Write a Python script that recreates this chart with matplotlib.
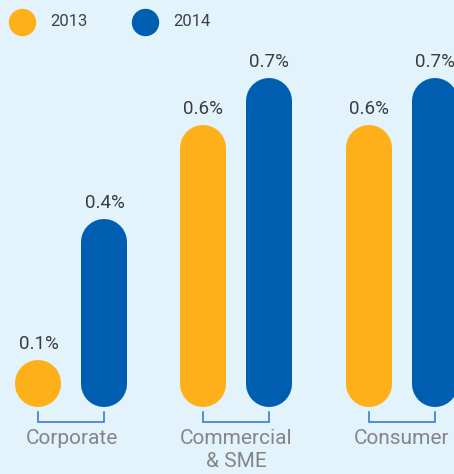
import matplotlib
matplotlib.use("Agg")
import matplotlib.pyplot as plt

# Data
categories = ["Corporate", "Commercial\n& SME", "Consumer"]
years = ["2013", "2014"]
values_2013 = [0.1, 0.6, 0.6]
values_2014 = [0.4, 0.7, 0.7]
series_colors = ["#FDB01A", "#005EB0"]

BG = "#E3F3FC"
W, H, DPI = 454, 474, 100

plt.rcParams["font.family"] = ["Roboto", "DejaVu Sans"]

fig = plt.figure(figsize=(W / DPI, H / DPI), dpi=DPI)
fig.patch.set_facecolor(BG)
ax = fig.add_axes([0, 0, 1, 1])
ax.set_facecolor(BG)
ax.set_xlim(-0.433, 2.318)
ax.set_ylim(-0.1426, 0.866)
ax.axis("off")

px_per_unit = H / (0.866 + 0.1426)
bar_px = 46
r = bar_px / 2 / px_per_unit          # cap radius in data units
lw = bar_px * 72 / DPI                # line width in points
offset = 0.2

for s, (vals, col) in enumerate(zip([values_2013, values_2014], series_colors)):
    sign = -1 if s == 0 else 1
    for i, v in enumerate(vals):
        x = i + sign * offset
        ax.plot([x, x], [r, max(v - r, r + 1e-4)], color=col, lw=lw,
                solid_capstyle="round", clip_on=False)
        ax.annotate(f"{v:.1f}%", (x, v), xytext=(0, 5), textcoords="offset points",
                    ha="center", va="bottom", fontsize=13.5, color="#3C3C3C")

# Brackets and category labels
y_top = -5 / px_per_unit
y_bot = -15 / px_per_unit
for i, cat in enumerate(categories):
    x0, x1 = i - offset, i + offset
    ax.plot([x0, x0, x1, x1], [y_top, y_bot, y_bot, y_top], color="#3D7CC9",
            lw=1.2, solid_joinstyle="miter")
    ax.text(i, -22 / px_per_unit, cat, ha="center", va="top", fontsize=15,
            color="#858585", linespacing=1.3)

# Legend
legend_x = [22, 145]
for lx, yr, col in zip(legend_x, years, series_colors):
    ax.plot([lx / W], [1 - 22 / H], marker="o", markersize=26 * 72 / DPI,
            color=col, transform=ax.transAxes, clip_on=False)
    ax.text((lx + 28) / W, 1 - 22 / H, yr, transform=ax.transAxes,
            ha="left", va="center", fontsize=12, color="#404040")

fig.savefig("out.png", dpi=DPI, facecolor=BG)
